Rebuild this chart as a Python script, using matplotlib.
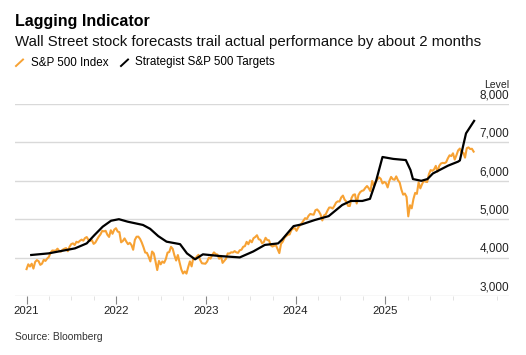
import pandas as pd
import matplotlib
matplotlib.use('Agg')
from matplotlib import pyplot as plt
import matplotlib.dates as mdates
from matplotlib.lines import Line2D

plt.rcParams['font.family'] = ['Liberation Sans', 'DejaVu Sans']

# S&P 500 Index, weekly closes (Friday), starting first week of 2021
spx_start = '2021-01-01'
spx = [
    # 2021
    3700, 3825, 3768, 3841, 3714, 3887, 3934, 3907, 3811, 3842, 3943, 3913, 3975,
    4019, 4129, 4185, 4180, 4181, 4233, 4174, 4156, 4204, 4230, 4247, 4166, 4281,
    4352, 4370, 4327, 4412, 4395, 4437, 4468, 4442, 4509, 4535, 4459, 4433, 4455,
    4357, 4391, 4471, 4545, 4605, 4697, 4682, 4698, 4595, 4538, 4712, 4620, 4726, 4766,
    # 2022
    4677, 4662, 4398, 4432, 4500, 4419, 4349, 4385, 4329, 4204, 4463, 4543,
    4546, 4488, 4393, 4272, 4132, 4123, 4024, 3901, 4158, 4109, 3901, 3675, 3912,
    3825, 3899, 3863, 3962, 4130, 4145, 4280, 4228, 4058, 3924, 4067, 3873, 3693, 3586,
    3640, 3583, 3752, 3901, 3771, 3993, 3965, 4026, 4072, 3934, 3852, 3845, 3840,
    # 2023
    3895, 3999, 3973, 4071, 4136, 4090, 4079, 3970, 4046, 3862, 3917, 3971, 4109,
    4105, 4138, 4133, 4169, 4136, 4124, 4192, 4205, 4282, 4299, 4410, 4348, 4450,
    4399, 4505, 4536, 4582, 4478, 4464, 4370, 4406, 4516, 4457, 4450, 4320, 4288,
    4308, 4327, 4224, 4117, 4358, 4415, 4514, 4559, 4595, 4604, 4719, 4755, 4770,
    # 2024
    4697, 4784, 4840, 4891, 4959, 5027, 5006, 5089, 5137, 5124, 5117, 5234, 5254,
    5204, 5123, 4967, 5100, 5128, 5223, 5303, 5305, 5278, 5347, 5432, 5465, 5460,
    5567, 5615, 5505, 5459, 5346, 5344, 5554, 5634, 5648, 5408, 5626, 5703, 5738,
    5751, 5815, 5864, 5808, 5729, 5996, 5871, 5969, 6032, 6090, 6051, 5931, 5971,
    # 2025
    5942, 5827, 5997, 6101, 6041, 6026, 6115, 6013, 5955, 5770, 5639, 5668, 5581,
    5074, 5363, 5283, 5525, 5686, 5660, 5958, 5803, 5912, 6000, 5977, 5968, 6173,
    6279, 6260, 6297, 6389, 6238, 6389, 6450, 6467, 6460, 6482, 6584, 6664, 6644,
    6716, 6553, 6664, 6792, 6840, 6729, 6734, 6603, 6849, 6870, 6827, 6834, 6760,
]

# Strategist S&P 500 targets (average)
target_dates = [
    '2021-01-20', '2021-04-01', '2021-07-17', '2021-09-03', '2021-10-05', '2021-11-07',
    '2021-12-11', '2022-01-12', '2022-02-17', '2022-04-20', '2022-05-19', '2022-06-21',
    '2022-07-25', '2022-09-18', '2022-10-16', '2022-11-18', '2022-12-20', '2023-02-28',
    '2023-05-19', '2023-07-13', '2023-08-29', '2023-10-22', '2023-11-06', '2023-12-24',
    '2024-01-26', '2024-03-20', '2024-05-15', '2024-07-09', '2024-08-13', '2024-09-29',
    '2024-10-30', '2024-11-24', '2024-12-20', '2025-02-02', '2025-03-25', '2025-04-13',
    '2025-04-23', '2025-05-27', '2025-06-21', '2025-07-13', '2025-09-13', '2025-10-24',
    '2025-10-31', '2025-11-14', '2025-11-25', '2025-12-28',
]
targets = [
    4068, 4110, 4240, 4370, 4590, 4805,
    4960, 5000, 4935, 4850, 4750, 4560,
    4415, 4350, 4110, 3955, 4085, 4040,
    4005, 4160, 4330, 4370, 4460, 4820,
    4865, 4980, 5080, 5370, 5475, 5475,
    5530, 6000, 6620, 6570, 6540, 6280,
    6045, 6000, 6045, 6190, 6395, 6500,
    6530, 6930, 7235, 7560,
]

y_levels = [3000, 4000, 5000, 6000, 7000, 8000]
year_ticks = ['2021', '2022', '2023', '2024', '2025']

orange = '#F7A234'
grid_col = '#d9d9d9'

spx_dates = pd.date_range(spx_start, periods=len(spx), freq='W-FRI')
target_dates = pd.to_datetime(target_dates)

fig = plt.figure(figsize=(5.26, 3.55), dpi=100)
ax = fig.add_axes([15/526, 59/355, 494/526, 192/355])

ax.plot(spx_dates, spx, color=orange, lw=1.5, zorder=3)
ax.plot(target_dates, targets, color='black', lw=1.6, zorder=4)

ax.set_xlim(pd.Timestamp('2020-11-15'), pd.Timestamp('2026-05-19'))
ax.set_ylim(3000, 8000)

for v in y_levels:
    ax.axhline(v, color=grid_col, lw=1, zorder=1)
    ax.text(1.0, v + 70, f'{v:,}', transform=ax.get_yaxis_transform(),
            ha='right', va='bottom', fontsize=8.5, color='#222222')
ax.text(1.0, 1.0 + 0.072, 'Level', transform=ax.transAxes, ha='right', va='bottom',
        fontsize=7.5, color='#222222')

for s in ax.spines.values():
    s.set_visible(False)
ax.set_yticks([])

ax.xaxis.set_minor_locator(mdates.MonthLocator(bymonth=[4, 7, 10]))
ax.set_xticks(pd.to_datetime([y + '-01-01' for y in year_ticks]))
ax.set_xticklabels(year_ticks)
ax.tick_params(axis='x', which='major', length=6, width=0.8, color='#888888',
               labelsize=8.2, labelcolor='#222222', pad=1.5)
ax.tick_params(axis='x', which='minor', length=3, width=0.6, color='#dddddd')

# header
fig.text(15/526, 1 - 26/355, 'Lagging Indicator', fontsize=11.5, fontweight='bold',
         ha='left', va='baseline')
fig.text(15/526, 1 - 46/355, 'Wall Street stock forecasts trail actual performance by about 2 months',
         fontsize=10.8, ha='left', va='baseline', color='#111111')

# legend
fig.add_artist(Line2D([16/526, 23/526], [1 - 66/355, 1 - 59.5/355], color=orange, lw=1.4))
fig.text(31/526, 1 - 62.5/355, 'S&P 500 Index', fontsize=8.4, ha='left', va='center')
fig.add_artist(Line2D([121/526, 128/526], [1 - 66/355, 1 - 59.5/355], color='black', lw=1.4))
fig.text(135/526, 1 - 62.5/355, 'Strategist S&P 500 Targets', fontsize=8.4, ha='left', va='center')

fig.text(15/526, 1 - 337/355, 'Source: Bloomberg', fontsize=7.4, ha='left', va='center',
         color='#333333')

plt.savefig('out.png', dpi=100)
